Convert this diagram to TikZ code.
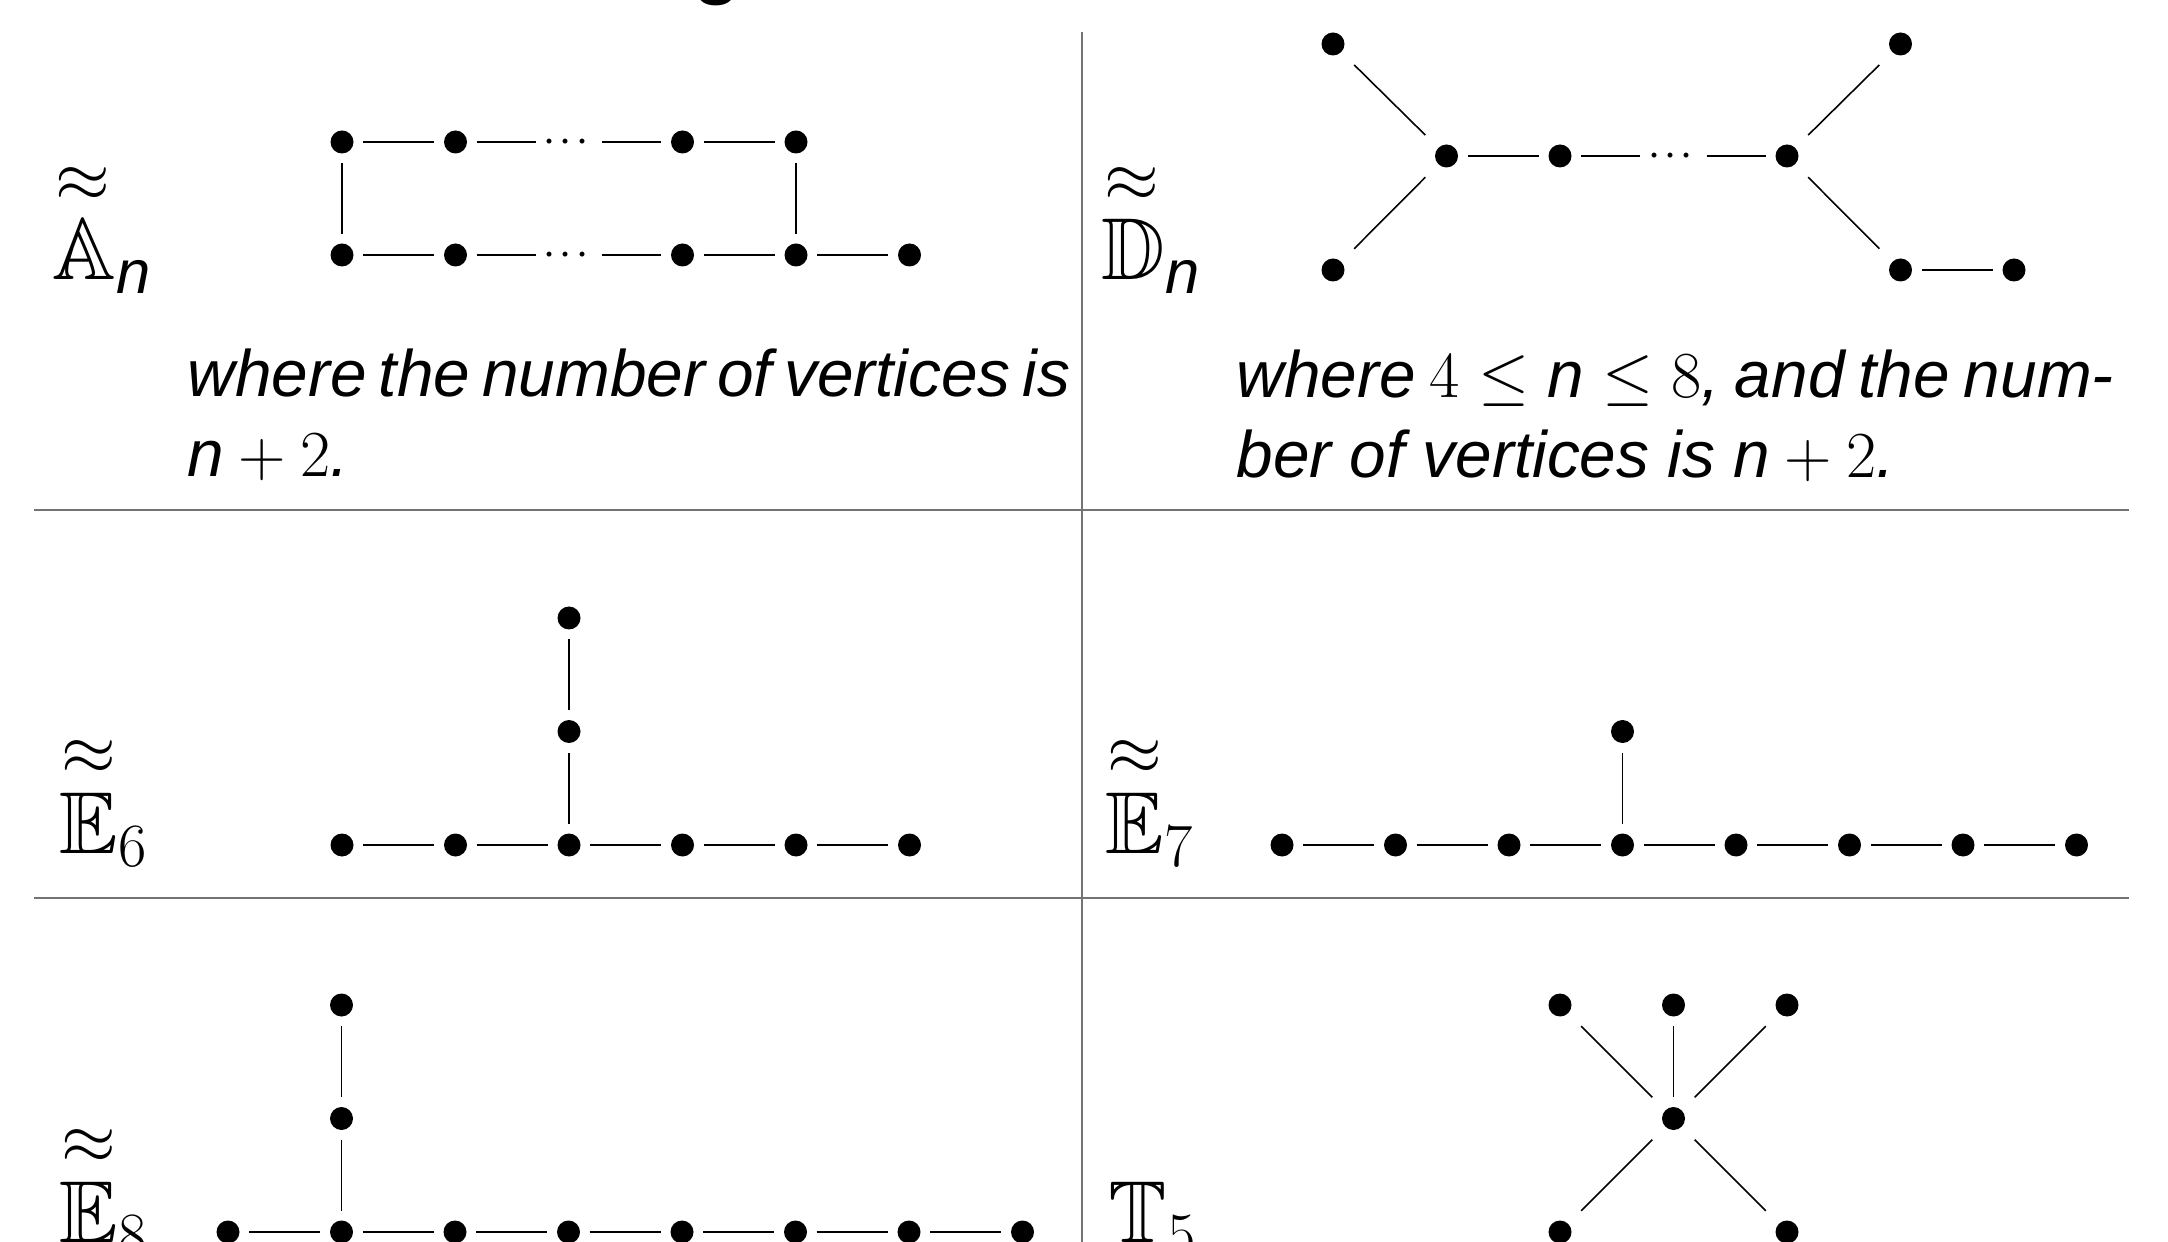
\RequirePackage{fix-cm}
\documentclass[tikz,border=0pt]{standalone}
\usepackage{amsmath}
\usepackage{amssymb}
\usepackage[no-math]{fontspec}
\setmainfont{Liberation Sans}

\newcommand{\dtil}[1]{{\overset{\scalebox{0.8}{$\approx$}}{#1}}}

\tikzset{
    vertex/.style={rectangle, inner sep=0pt, minimum size=4.1mm,
        path picture={\fill (path picture bounding box.center) circle (1.15mm);}},
    gap/.style={rectangle, inner sep=0pt, minimum width=6.5mm, minimum height=4.1mm, font=\small\boldmath},
    link/.style={line width=0.45pt},
    cellline/.style={line width=0.6pt, black!55},
    tag/.style={anchor=base west, inner sep=0pt, font=\fontsize{25}{30}\selectfont},
    note/.style={anchor=base west, inner sep=0pt, font=\fontsize{18.7}{22.7}\selectfont\itshape}
}

\begin{document}
\begin{tikzpicture}
    \useasboundingbox (0,0) rectangle (21.68,-12.42);

    % Heading, cut off at the top
    \node [anchor=base, inner sep=0pt, font=\fontsize{22}{26}\selectfont\bfseries] (head) at (7.17,0.10) {g};

    % Cell lines
    \draw [cellline] (0.34,-5.10) -- (21.29,-5.10);
    \draw [cellline] (0.34,-8.98) -- (21.29,-8.98);
    \draw [cellline] (10.82,-0.32) -- (10.82,-12.60);

    % A_n
    \node [tag] (lblA) at (0.52,-2.80) {$\dtil{\mathbb{A}}_{\textit{n}}$};
    \foreach \k in {0,1,3,4}
        \node [vertex] (at\k) at ({3.42+1.135*\k},-1.42) {};
    \foreach \k in {0,1,3,4,5}
        \node [vertex] (ab\k) at ({3.42+1.135*\k},-2.55) {};
    \node [gap] (atd) at ({3.42+1.135*2},-1.42) {$\cdots$};
    \node [gap] (abd) at ({3.42+1.135*2},-2.55) {$\cdots$};
    \foreach \u/\v in {at0/at1, at1/atd, atd/at3, at3/at4, ab0/ab1, ab1/abd, abd/ab3, ab3/ab4, ab4/ab5, at0/ab0, at4/ab4}
        \draw [link] (\u) -- (\v);
    \node [note] (noteA) at (1.87,-3.97) {\parbox[t]{8.77cm}{\makebox[\linewidth][s]{where the number of vertices is}\\ $\textit{n}+2$.}};

    % D_n
    \node [tag] (lblD) at (11.01,-2.80) {$\dtil{\mathbb{D}}_{\textit{n}}$};
    \node [vertex] (dtl) at (13.33,-0.44) {};
    \node [vertex] (dbl) at (13.33,-2.70) {};
    \foreach \k in {1,2,4}
        \node [vertex] (dm\k) at ({13.33+1.135*\k},-1.56) {};
    \node [gap] (dmd) at ({13.33+1.135*3},-1.56) {$\cdots$};
    \node [vertex] (dtr) at ({13.33+1.135*5},-0.44) {};
    \node [vertex] (dbr) at ({13.33+1.135*5},-2.70) {};
    \node [vertex] (dend) at ({13.33+1.135*6},-2.70) {};
    \foreach \u/\v in {dtl/dm1, dbl/dm1, dm1/dm2, dm2/dmd, dmd/dm4, dm4/dtr, dm4/dbr, dbr/dend}
        \draw [link] (\u) -- (\v);
    \node [note] (noteD) at (12.36,-3.98) {\parbox[t]{8.77cm}{where $4\leq\textit{n}\leq 8$, and the num-\linebreak ber of vertices is $\textit{n}+2$.}};

    % E_6
    \node [tag] (lblEsix) at (0.59,-8.53) {$\dtil{\mathbb{E}}_6$};
    \foreach \k in {0,...,5}
        \node [vertex] (es\k) at ({3.42+1.135*\k},-8.45) {};
    \node [vertex] (esu1) at ({3.42+1.135*2},-7.315) {};
    \node [vertex] (esu2) at ({3.42+1.135*2},-6.18) {};
    \foreach \k [count=\j] in {0,...,4}
        \draw [link] (es\k) -- (es\j);
    \draw [link] (es2) -- (esu1);
    \draw [link] (esu1) -- (esu2);

    % E_7
    \node [tag] (lblEseven) at (11.05,-8.53) {$\dtil{\mathbb{E}}_7$};
    \foreach \k in {0,...,7}
        \node [vertex] (ev\k) at ({12.82+1.135*\k},-8.45) {};
    \node [vertex] (evu) at ({12.82+1.135*3},-7.315) {};
    \foreach \k [count=\j] in {0,...,6}
        \draw [link] (ev\k) -- (ev\j);
    \draw [link] (ev3) -- (evu);

    % E_8
    \node [tag] (lblEeight) at (0.59,-12.42) {$\dtil{\mathbb{E}}_8$};
    \foreach \k in {0,...,7}
        \node [vertex] (ee\k) at ({2.28+1.135*\k},-12.32) {};
    \node [vertex] (eeu1) at ({2.28+1.135},-11.185) {};
    \node [vertex] (eeu2) at ({2.28+1.135},-10.05) {};
    \foreach \k [count=\j] in {0,...,6}
        \draw [link] (ee\k) -- (ee\j);
    \draw [link] (ee1) -- (eeu1);
    \draw [link] (eeu1) -- (eeu2);

    % T_5
    \node [tag] (lblT) at (11.08,-12.42) {$\mathbb{T}_5$};
    \node [vertex] (tc) at (16.735,-11.185) {};
    \foreach \x/\n in {15.6/1, 16.735/2, 17.87/3}
        \node [vertex] (tt\n) at (\x,-10.05) {};
    \foreach \x/\n in {15.6/1, 17.87/2}
        \node [vertex] (tb\n) at (\x,-12.32) {};
    \foreach \v in {tt1, tt2, tt3, tb1, tb2}
        \draw [link] (tc) -- (\v);
\end{tikzpicture}
\end{document}
